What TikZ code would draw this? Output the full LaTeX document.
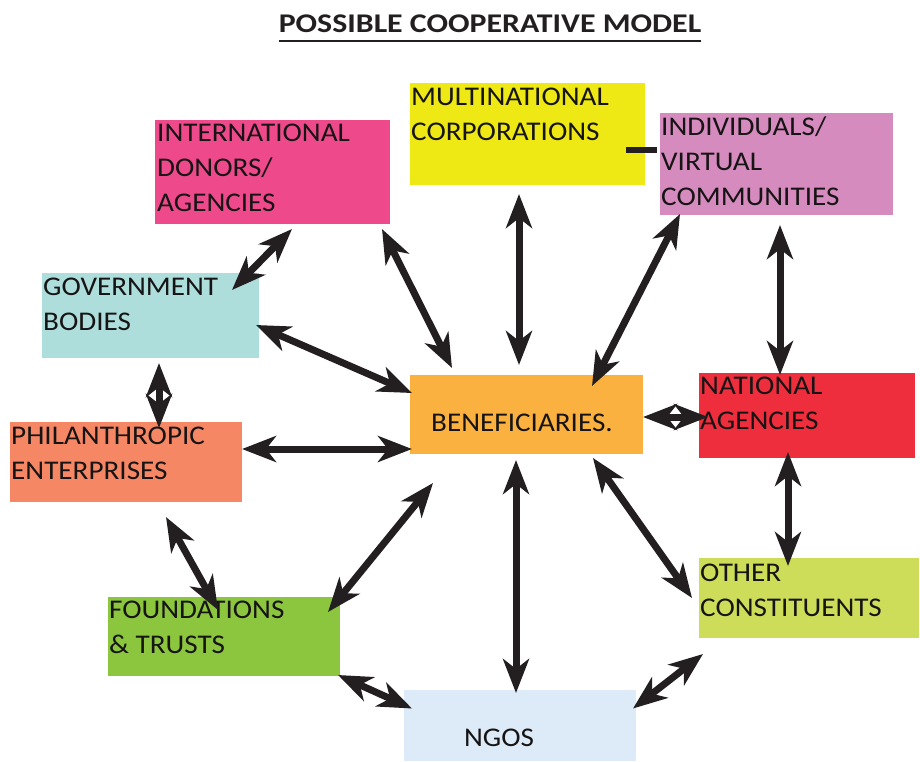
\documentclass[tikz,border=0pt]{standalone}
\usepackage{fontspec}
\setmainfont{Carlito}
\newfontfamily\boxfont[FakeStretch=1.08]{Carlito}
\newfontfamily\titlefont[FakeStretch=1.18]{Carlito}
\usepackage{xcolor}
\usepackage{tikz}
\usetikzlibrary{arrows.meta,calc}
\definecolor{ink}{RGB}{35,31,32}
\definecolor{txt}{RGB}{22,20,20}
\definecolor{donorpink}{RGB}{238,74,139}
\definecolor{multiyellow}{RGB}{238,232,20}
\definecolor{indivpink}{RGB}{214,139,190}
\definecolor{govteal}{RGB}{174,222,219}
\definecolor{benorange}{RGB}{251,177,64}
\definecolor{natred}{RGB}{238,46,60}
\definecolor{philsalmon}{RGB}{245,135,101}
\definecolor{otherlime}{RGB}{205,221,90}
\definecolor{foundgreen}{RGB}{140,198,63}
\definecolor{ngoblue}{RGB}{221,235,248}

\begin{document}
\begin{tikzpicture}[x=1pt,y=-1pt,
  box/.style={inner sep=0pt,outer sep=0pt,draw=none},
  lbl/.style={inner sep=0pt,anchor=north west,align=left,text=txt,
    font=\boxfont\fontsize{27}{35}\selectfont},
  link/.style={ink,line width=7pt,
    {Stealth[length=34pt,width=26pt,inset=10pt]}-{Stealth[length=34pt,width=26pt,inset=10pt]}}]
\useasboundingbox (0,0) rectangle (920,761);
% title
\node[inner sep=0pt,text=ink,font=\titlefont\fontsize{27}{30}\selectfont\bfseries] (title) at (490,24)
  {POSSIBLE COOPERATIVE MODEL};
\draw[ink,line width=2.5pt] ($(title.south west)+(0,8)$) -- ($(title.south east)+(0,8)$);
% boxes
\node[box,fill=donorpink,minimum width=235pt,minimum height=104pt] (donors) at (272.5,172) {};
\node[box,fill=multiyellow,minimum width=235pt,minimum height=102pt] (multi) at (527.5,134) {};
\node[box,fill=indivpink,minimum width=233pt,minimum height=102pt] (indiv) at (776.5,164) {};
\node[box,fill=govteal,minimum width=217pt,minimum height=85pt] (gov) at (150.5,315.5) {};
\node[box,fill=benorange,minimum width=233pt,minimum height=79pt] (benef) at (526.5,414.5) {};
\node[box,fill=natred,minimum width=216pt,minimum height=85pt] (national) at (807,415.5) {};
\node[box,fill=philsalmon,minimum width=232pt,minimum height=80pt] (phil) at (126,462) {};
\node[box,fill=otherlime,minimum width=220pt,minimum height=80pt] (other) at (809,598) {};
\node[box,fill=foundgreen,minimum width=232pt,minimum height=79pt] (found) at (224,636.5) {};
\node[box,fill=ngoblue,minimum width=232pt,minimum height=71pt] (ngos) at (520,725.5) {};
% labels
\node[lbl] (donors-t) at (157,124) {INTERNATIONAL\\DONORS/\\AGENCIES};
\node[lbl] (multi-t) at (411,88) {MULTINATIONAL\\CORPORATIONS};
\node[lbl] (indiv-t) at (661,117) {INDIVIDUALS/\\VIRTUAL\\COMMUNITIES};
\node[lbl] (gov-t) at (43,278) {GOVERNMENT\\BODIES};
\node[lbl,anchor=center] (benef-t) at (522,423) {BENEFICIARIES.};
\node[lbl] (national-t) at (700,377) {NATIONAL\\AGENCIES};
\node[lbl] (phil-t) at (11,427) {PHILANTHROPIC\\ENTERPRISES};
\node[lbl] (other-t) at (700,564) {OTHER\\CONSTITUENTS};
\node[lbl] (found-t) at (109,601) {FOUNDATIONS\\\& TRUSTS};
\node[lbl,anchor=center] (ngos-t) at (499,738) {NGOS};
% short bar
\draw[ink,line width=6pt] ($(multi.east)+(-19,16)$) -- ($(indiv.west)+(-3,-14)$);
% arrows
\draw[link] ($(donors.south)+(19.5,5)$) -- ($(gov.north east)+(-27,17)$);
\draw[link] ($(donors.south east)+(-8,5)$) -- ($(benef.north west)+(42,-7)$);
\draw[link] ($(multi.south)+(-8.5,9)$) -- ($(benef.north)+(-7.5,-10)$);
\draw[link] ($(indiv.south west)+(20,-1)$) -- ($(benef.north east)+(-51,11)$);
\draw[link] ($(indiv.south)+(3.5,10)$) -- ($(national.north)+(-27,2)$);
\draw[link] ($(gov.east)+(-3,9.5)$) -- ($(benef.west)+(2,-21.5)$);
\draw[link] ($(gov.south)+(8.5,5)$) -- ($(phil.north)+(33,6)$);
\draw[link] ($(phil.east)+(0,-13)$) -- ($(benef.west)+(2,34.5)$);
\draw[link] ($(benef.east)+(0,2.5)$) -- ($(national.west)+(9,1.5)$);
\draw[link] ($(phil.south)+(40,15)$) -- ($(found.north)+(-6,13)$);
\draw[link] ($(benef.south west)+(23,29)$) -- ($(found.north east)+(-12,15)$);
\draw[link] ($(benef.south)+(-10.5,6)$) -- ($(ngos.north)+(-4,3)$);
\draw[link] ($(benef.south east)+(-50,4)$) -- ($(other.west)+(-7,0)$);
\draw[link] ($(national.south)+(-19,-6)$) -- ($(other.north)+(-21,8)$);
\draw[link] ($(found.south east)+(-2,-1)$) -- ($(ngos.west)+(8,-17)$);
\draw[link] ($(other.south west)+(4,16)$) -- ($(ngos.east)+(-3,-17)$);
\end{tikzpicture}
\end{document}
